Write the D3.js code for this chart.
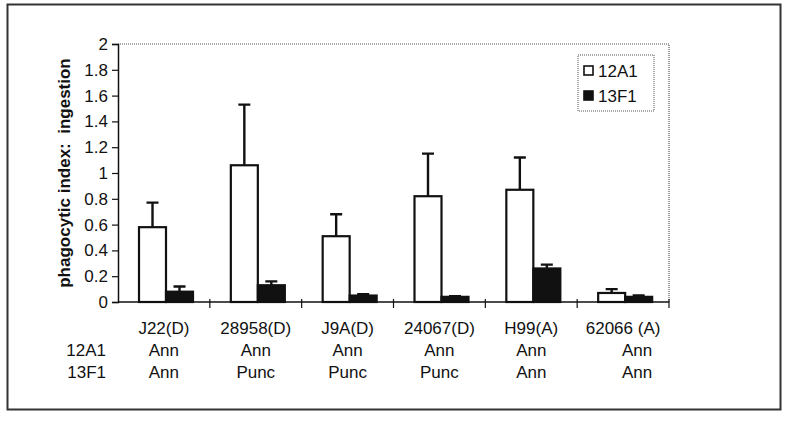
<!DOCTYPE html>
<html>
<head>
<meta charset="utf-8">
<script src="https://cdn.jsdelivr.net/npm/d3@7"></script>
<style>
  body { margin: 0; background: #fff; }
  text { font-family: "Liberation Sans", Arial, sans-serif; fill: #111; }
</style>
</head>
<body>
<svg width="800" height="427"></svg>
<script>
const strains = ['J22(D)', '28958(D)', 'J9A(D)', '24067(D)', 'H99(A)', '62066 (A)'];
const pattern12A1 = ['Ann', 'Ann', 'Ann', 'Ann', 'Ann', 'Ann'];
const pattern13F1 = ['Ann', 'Punc', 'Punc', 'Punc', 'Ann', 'Ann'];
const series = ['12A1', '13F1'];
const values12A1 = [0.58, 1.06, 0.51, 0.82, 0.87, 0.07];
const errors12A1 = [0.19, 0.47, 0.17, 0.33, 0.25, 0.03];
const values13F1 = [0.08, 0.13, 0.05, 0.04, 0.26, 0.04];
const errors13F1 = [0.04, 0.03, 0.01, 0.005, 0.03, 0.01];
const yTicks = [0, 0.2, 0.4, 0.6, 0.8, 1, 1.2, 1.4, 1.6, 1.8, 2];

const svg = d3.select('svg');
const ink = '#111';
const fs = 17;

// outer frame
svg.append('rect')
  .attr('x', 7.5).attr('y', 4.5)
  .attr('width', 773).attr('height', 405)
  .attr('fill', 'none').attr('stroke', '#333').attr('stroke-width', 2);

const pL = 118, pR = 669, pT = 44, pB = 302;

const x = d3.scaleBand().domain(strains).range([pL, pR]);
const xs = d3.scaleBand().domain(series).range([21, 75]);
const y = d3.scaleLinear().domain([0, 2]).range([pB, pT]);

// plot frame top/right (dotted grey)
svg.append('path')
  .attr('d', `M${pL},${pT}H${pR}V${pB}`)
  .attr('fill', 'none').attr('stroke', '#555')
  .attr('stroke-width', 1.2).attr('stroke-dasharray', '1,1');

const rows = strains.map((s, i) => ({
  s,
  bars: [
    { k: '12A1', v: values12A1[i], e: errors12A1[i] },
    { k: '13F1', v: values13F1[i], e: errors13F1[i] }
  ]
}));

const grp = svg.append('g').selectAll('g.grp').data(rows).enter().append('g')
  .attr('transform', d => `translate(${x(d.s)},0)`);

// error bars (upward only)
grp.selectAll('path.err').data(d => d.bars).enter().append('path')
  .attr('d', d => {
    const cx = xs(d.k) + xs.bandwidth() / 2;
    return `M${cx},${y(d.v)}V${y(d.v + d.e)}M${cx - 6},${y(d.v + d.e)}H${cx + 6}`;
  })
  .attr('stroke', ink).attr('stroke-width', 2.4).attr('fill', 'none');

grp.selectAll('rect').data(d => d.bars).enter().append('rect')
  .attr('x', d => xs(d.k))
  .attr('width', xs.bandwidth())
  .attr('y', d => y(d.v))
  .attr('height', d => y(0) - y(d.v))
  .attr('fill', d => d.k === '12A1' ? '#fff' : ink)
  .attr('stroke', ink).attr('stroke-width', 2.2);

// y axis
const yAxis = svg.append('g')
  .attr('transform', `translate(${pL},0)`)
  .call(d3.axisLeft(y).tickValues(yTicks).tickSize(6).tickPadding(4)
    .tickFormat(d => d3.format('~g')(d)));
yAxis.select('.domain').attr('stroke', ink).attr('stroke-width', 1.5);
yAxis.selectAll('.tick line').attr('stroke', ink).attr('stroke-width', 1.2);
yAxis.selectAll('text').attr('font-size', fs).style('fill', ink);

// x baseline with ticks at band boundaries
svg.append('line')
  .attr('x1', pL).attr('x2', pR).attr('y1', pB).attr('y2', pB)
  .attr('stroke', ink).attr('stroke-width', 1.5);
svg.selectAll('line.xt').data(strains.slice(1).concat(['end'])).enter().append('line')
  .attr('x1', (d, i) => i < strains.length - 1 ? x(d) : pR)
  .attr('x2', (d, i) => i < strains.length - 1 ? x(d) : pR)
  .attr('y1', pB - 3).attr('y2', pB + 6)
  .attr('stroke', ink).attr('stroke-width', 1.2);

// category labels (three rows)
const labelRows = [strains, pattern12A1, pattern13F1];
labelRows.forEach((arr, r) => {
  svg.selectAll(`text.r${r}`).data(arr).enter().append('text')
    .attr('x', (d, i) => x(strains[i]) + x.bandwidth() / 2 + (r > 0 && i === 5 ? 14 : 0))
    .attr('y', 334 + r * 22)
    .attr('text-anchor', 'middle')
    .attr('font-size', fs)
    .text(d => d);
});
svg.selectAll('text.rowlab').data(series).enter().append('text')
  .attr('x', 106).attr('y', (d, i) => 356 + i * 22)
  .attr('text-anchor', 'end').attr('font-size', fs)
  .text(d => d);

// y label
svg.append('text')
  .attr('transform', `translate(70,${(pT + pB) / 2}) rotate(-90)`)
  .attr('text-anchor', 'middle')
  .attr('font-size', fs).attr('font-weight', 'bold')
  .style('white-space', 'pre')
  .text('phagocytic index:  ingestion');

// legend
const lg = svg.append('g').attr('transform', 'translate(578,55)');
lg.append('rect').attr('width', 76).attr('height', 56)
  .attr('fill', '#fff').attr('stroke', '#555').attr('stroke-width', 1).attr('stroke-dasharray', '1,1');
lg.selectAll('rect.key').data(series).enter().append('rect')
  .attr('x', 6).attr('y', (d, i) => 11 + i * 25)
  .attr('width', 9).attr('height', 9)
  .attr('fill', (d, i) => i === 0 ? '#fff' : ink)
  .attr('stroke', ink).attr('stroke-width', 1.6);
lg.selectAll('text').data(series).enter().append('text')
  .attr('x', 20).attr('y', (d, i) => 22 + i * 25)
  .attr('font-size', fs)
  .text(d => d);
</script>
</body>
</html>
